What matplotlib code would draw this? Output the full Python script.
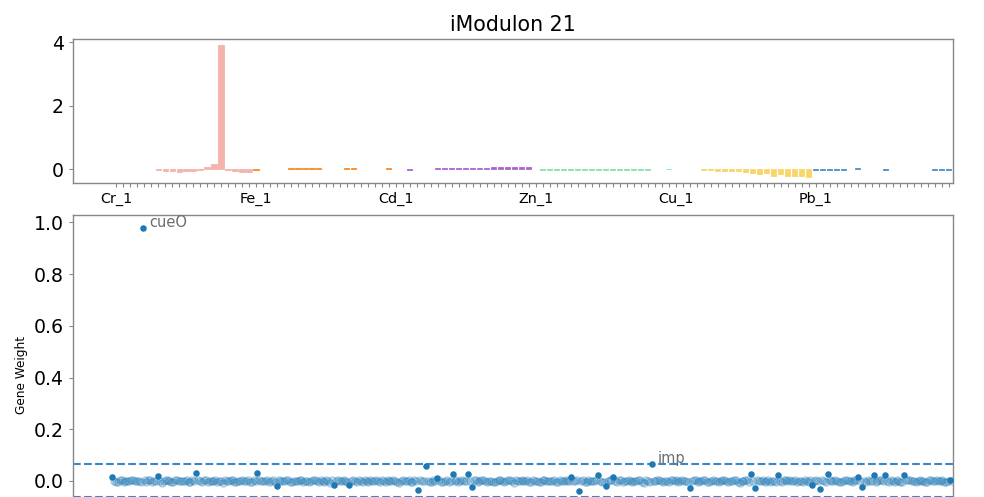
import numpy as np
import matplotlib.pyplot as plt

# ---- top panel: iModulon activity per sample ----
n_samples = 120
sample_labels = {0: 'Cr_1', 20: 'Fe_1', 40: 'Cd_1', 60: 'Zn_1', 80: 'Cu_1', 100: 'Pb_1'}

pink_idx = [6, 7, 8, 9, 10, 11, 12, 13, 14, 15, 16, 17, 18, 19]
pink_act = [-0.01, -0.05, -0.05, -0.08, -0.05, -0.05, -0.03, 0.08, 0.16, 3.90, -0.02, -0.05, -0.08, -0.08]
orange_idx = [20, 25, 26, 27, 28, 29, 33, 34, 39]
orange_act = [-0.02, 0.04, 0.04, 0.04, 0.04, 0.04, 0.03, 0.03, 0.03]
purple_idx = [42, 46, 47, 48, 49, 50, 51, 52, 53, 54, 55, 56, 57, 58, 59]
purple_act = [-0.03, 0.03, 0.03, 0.03, 0.03, 0.03, 0.03, 0.03, 0.03, 0.07, 0.07, 0.07, 0.07, 0.07, 0.07]
green_idx = [61, 62, 63, 64, 65, 66, 67, 68, 69, 70, 71, 72, 73, 74, 75, 76, 79]
green_act = [-0.01, -0.01, -0.01, -0.01, -0.01, -0.01, -0.01, -0.01, -0.01, -0.01, -0.01, -0.01, -0.01, -0.01,
             -0.01, -0.01, 0.02]
yellow_idx = [84, 85, 86, 87, 88, 89, 90, 91, 92, 93, 94, 95, 96, 97, 98, 99]
yellow_act = [-0.02, -0.02, -0.05, -0.05, -0.05, -0.05, -0.08, -0.12, -0.15, -0.12, -0.20, -0.16, -0.20, -0.20,
              -0.20, -0.24]
blue_idx = [100, 101, 102, 103, 104, 106, 110, 117, 118, 119]
blue_act = [-0.01, -0.01, -0.01, -0.01, -0.01, 0.03, -0.01, -0.01, -0.01, -0.01]

groups = [
    (pink_idx, pink_act, '#f5b3ae'),
    (orange_idx, orange_act, '#fb8a24'),
    (purple_idx, purple_act, '#ab66cc'),
    (green_idx, green_act, '#86e3a8'),
    (yellow_idx, yellow_act, '#f8d66a'),
    (blue_idx, blue_act, '#4a90cc'),
]

# ---- bottom panel: gene weights (x1e-3), genes in genome order ----
# even-numbered genes
gene_weights_a = [
    14, -3, 2, -5, 1, 4, -2, 0, 980, -4, 3, -1, 19, -6, 2, 0, -3, 5, -2, 1,
    -4, 2, 30, -1, 3, -5, 0, 4, -2, -6, 1, 3, -3, 0, 5, -2, -4, 2, 30, -1,
    0, -3, 4, -19, 1, -2, 3, -5, 0, 2, -4, 1, -1, 5, -3, 0, 2, -6, -15, 3,
    -2, 1, -15, 4, -3, 0, 2, -5, 1, 3, -4, -1, 5, -2, 0, -6, 3, 1, -3, 2,
    -35, 0, 58, -4, 2, 11, -3, 1, -5, 26, 3, -2, 0, 27, -22, 4, -1, 2, -4, 1,
    -3, 5, 0, -2, 3, -6, 1, 4, -1, -4, 2, 0, -3, 5, -2, 1, -5, 3, 0, -1,
    17, -2, -39, 3, -4, 1, 0, 23, -3, -19, 4, 17, -5, 2, -1, 3, -4, 0, 2, -6,
    1, 66, -2, 4, -3, 0, 5, -1, -4, 2, 1, -28, 3, -5, 0, 2, -3, 4, -2, -1,
    3, -4, 0, 2, -6, 1, 4, 27, -28, -2, 3, 0, -5, 1, 23, -3, 2, 5, -1, -4,
    0, 2, -3, -15, 4, -32, 1, 26, -2, 3, -5, 0, 2, -1, 4, 14, -22, -3, 1, 23,
    -2, 3, 23, -4, 0, 2, -3, 23, 5, -1, -5, 2, 0, -3, 4, 1, -2, 3, -4, 4,
]
# odd-numbered genes
gene_weights_b = [
    1, -4, 3, 0, -2, 5, -1, -3, 2, 4, -5, 0, 1, -2, 3, -4, 2, 0, -1, 4,
    -3, 0, 2, -5, 4, -1, 1, -3, 0, 3, -2, 5, -4, 1, -1, 2, -3, 0, 4, -2,
    3, -1, -4, 2, 0, 5, -3, 1, -2, 4, 0, -5, 2, -1, 3, -3, 1, 4, -2, 0,
    2, -3, 1, -1, 4, -4, 0, 3, -2, 1, 5, -3, 0, 2, -4, 1, -1, 3, -5, 0,
    4, -2, 1, -3, 0, 2, -4, 5, -1, 1, -3, 3, -2, 0, 4, -5, 2, -1, 1, -3,
    0, 3, -4, 2, -1, 5, -2, 0, 3, -3, 1, -5, 4, -1, 0, 2, -3, 1, 4, -2,
    -1, 3, 0, -4, 2, -2, 5, 1, -3, 0, 2, -1, 4, -4, 1, 0, -2, 3, -5, 2,
    -3, 1, 4, -1, 0, -4, 2, 3, -2, 1, -5, 0, 4, -1, 2, -3, 1, 0, -4, 3,
    0, -2, 5, -3, 1, 2, -4, 0, 3, -1, -5, 2, 1, -3, 0, 4, -2, -1, 3, 0,
    -4, 1, 2, -2, 0, 3, -5, 4, -1, 1, -3, 2, 0, -4, 5, -2, 1, 3, -1, -3,
    2, -1, 0, 4, -3, 1, -5, 2, 3, -2, 0, 1, -4, 2, -1, 3, 0, -3, 1, -2,
]
highlight_idx = [0, 8, 12, 22, 38, 43, 58, 62, 80, 82, 85, 89, 93, 94, 120, 122, 127, 129, 131, 141,
                 151, 167, 168, 174, 183, 185, 187, 195, 196, 199, 202, 207, 219]
gene_names = {8: 'cueO', 141: 'imp'}
thresh_up = 0.066
thresh_down = -0.062

SPINE = '#888888'
BLUE = '#1f77b4'


def style_axis(ax):
    for sp in ax.spines.values():
        sp.set_color(SPINE)
        sp.set_linewidth(1.0)
    ax.tick_params(colors=SPINE, labelcolor='black')


def main():
    fig = plt.figure(figsize=(9.84, 4.97), dpi=100)
    ax1 = fig.add_axes([73 / 984, 1 - 183 / 497, 880 / 984, 144 / 497])
    ax2 = fig.add_axes([73 / 984, (497 - 535) / 497, 880 / 984, 320 / 497])

    # activities
    for idx, act, col in groups:
        ax1.bar(idx, act, width=0.72, color=col, edgecolor=col, linewidth=0.6)
    ax1.set_xlim(-6.15, 119.6)
    ax1.set_ylim(-0.43, 4.10)
    ax1.set_xticks(range(n_samples))
    ax1.set_xticklabels([sample_labels.get(i, '') for i in range(n_samples)], fontsize=10.4)
    ax1.tick_params(axis='x', length=3, width=0.8)
    ax1.set_yticks([0, 2, 4])
    ax1.tick_params(axis='y', labelsize=13.6, length=3)
    ax1.set_title('iModulon 21', fontsize=14.8)
    style_axis(ax1)

    # gene weights
    wa = np.array(gene_weights_a) / 1000.0
    wb = np.array(gene_weights_b) / 1000.0
    xa = 2 * np.arange(len(wa))
    xb = 2 * np.arange(len(wb)) + 1
    light = np.array([i not in highlight_idx for i in range(len(wa))])
    x_light = np.concatenate([xa[light], xb])
    w_light = np.concatenate([wa[light], wb])
    ax2.scatter(x_light, w_light, s=28, facecolor=(0.12, 0.47, 0.71, 0.22),
                edgecolor=(0.12, 0.47, 0.71, 0.35), linewidth=0.7, zorder=2)
    ax2.scatter(xa[highlight_idx], wa[highlight_idx], s=22, color=BLUE, linewidth=0, zorder=3)
    for i, name in gene_names.items():
        ax2.annotate(name, (xa[i], wa[i]), xytext=(4.5, 0.6), textcoords='offset points',
                     va='baseline', fontsize=10.5, color='#6b6e70')
    ax2.axhline(thresh_up, color='#3a87c8', linestyle='--', linewidth=1.5, zorder=1)
    ax2.axhline(thresh_down, color='#3a87c8', linestyle='--', linewidth=1.5, zorder=1)
    ax2.set_xlim(-20.4, 439.5)
    ax2.set_ylim(-0.209, 1.029)
    ax2.set_yticks([0.0, 0.2, 0.4, 0.6, 0.8, 1.0])
    ax2.tick_params(axis='y', labelsize=13.6, length=3)
    ax2.set_xticks([])
    ax2.set_ylabel('Gene Weight', fontsize=8.7)
    style_axis(ax2)

    fig.savefig('out.png', dpi=100)


if __name__ == '__main__':
    main()
